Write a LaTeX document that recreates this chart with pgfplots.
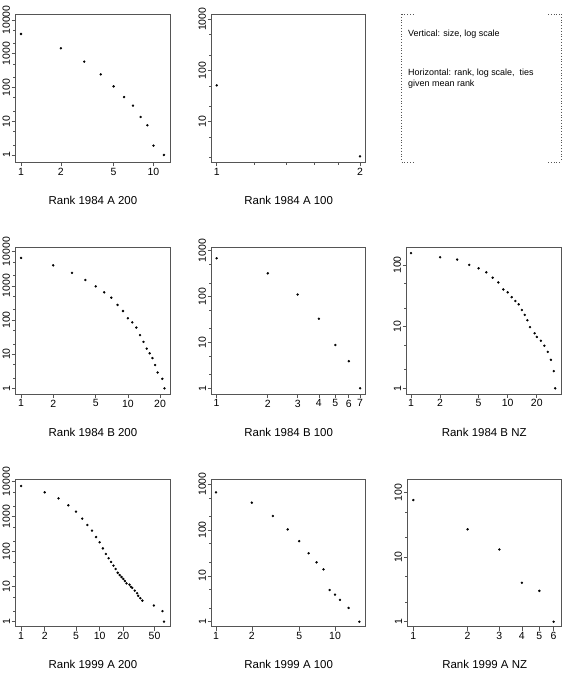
\documentclass[border=0pt]{standalone}
\usepackage{pgfplots}
\pgfplotsset{compat=1.18}
\usepackage{fontspec}
\setmainfont{Liberation Sans}
\definecolor{bx}{RGB}{85,85,85}
\pgfplotsset{
  every axis/.append style={scale only axis, anchor=south west,
    axis line style={bx, line width=0.8bp},
    every tick/.style={bx, line width=0.6bp},
    major tick length=4bp, minor tick length=2.5bp,
    tick align=outside, tick pos=left,
    ticklabel style={font=\fontsize{10.5}{12}\selectfont, text=black},
    yticklabel style={rotate=90, anchor=south, inner sep=1.5bp},
    xticklabel style={inner sep=1.5bp},
    xlabel style={font=\fontsize{11.5}{13}\selectfont, at={(axis description cs:0.5,0)}, anchor=center, yshift=-38bp},
  },
}
\begin{document}
\begin{tikzpicture}
\useasboundingbox (0,0) rectangle (567bp,-677bp);

% Panel 1
\begin{axis}[xmode=log, ymode=log, at={(15.7bp,-162.3bp)}, width=154.5bp, height=148.3bp,
  xmin=0.912, xmax=13.37, ymin=0.607, ymax=15066,
  xtick={1,2,5,10}, xticklabels={1,2,5,10},
  ytick={1,10,100,1000,10000}, yticklabels={1,10,100,1000,10000},
  minor ytick={2,5,20,50,200,500,2000,5000},
  xlabel={Rank 1984 A 200}]
\addplot[only marks, mark=*, mark size=1bp, black] coordinates {(1,3850)(2,1450)(3,583)(4,245)(5,108)(6,52)(7,29)(8,13.4)(9,7.6)(10,1.9)(12,1)};
\end{axis}

% Panel 2
\begin{axis}[xmode=log, ymode=log, at={(211.7bp,-162.3bp)}, width=154bp, height=148.3bp,
  xmin=0.976, xmax=2.056, ymin=1.603, ymax=1270,
  xtick={1,2}, xticklabels={1,2}, minor xtick={1.2,1.4,1.6,1.8},
  ytick={10,100,1000}, yticklabels={10,100,1000},
  minor ytick={2,5,20,50,200,500},
  xlabel={Rank 1984 A 100}]
\addplot[only marks, mark=*, mark size=1bp, black] coordinates {(1,51)(2,2.1)};
\end{axis}

% Panel 3: note box
\draw[bx, dotted, line width=0.8bp] (401.7bp,-14bp) -- (401.7bp,-162bp);
\draw[bx, dotted, line width=0.8bp] (561.7bp,-14bp) -- (561.7bp,-162bp);
\draw[bx, dotted, line width=0.8bp] (401.7bp,-14bp) -- (415bp,-14bp);
\draw[bx, dotted, line width=0.8bp] (548bp,-14bp) -- (561.7bp,-14bp);
\draw[bx, dotted, line width=0.8bp] (401.7bp,-162bp) -- (415bp,-162bp);
\draw[bx, dotted, line width=0.8bp] (548bp,-162bp) -- (561.7bp,-162bp);
\node[anchor=base west, inner sep=0pt, font=\fontsize{9}{11}\selectfont] at (408bp,-36bp) {Vertical: size, log scale};
\node[anchor=base west, inner sep=0pt, font=\fontsize{9}{11}\selectfont] at (408bp,-75bp) {Horizontal: rank, log scale,\ \ ties};
\node[anchor=base west, inner sep=0pt, font=\fontsize{9}{11}\selectfont] at (408bp,-86bp) {given mean rank};

% Panel 4
\begin{axis}[xmode=log, ymode=log, at={(15.7bp,-394bp)}, width=154.5bp, height=146.7bp,
  xmin=0.891, xmax=24.9, ymin=0.682, ymax=13397,
  xtick={1,2,5,10,20}, xticklabels={1,2,5,10,20},
  ytick={1,10,100,1000,10000}, yticklabels={1,10,100,1000,10000},
  minor ytick={2,5,20,50,200,500,2000,5000},
  xlabel={Rank 1984 B 200}]
\addplot[only marks, mark=*, mark size=1bp, black] coordinates {(1,6530)(2,3980)(3,2380)(4,1480)(5,967)(6,645)(7,450)(8,275)(9,183)(10,112)(11,85)(12,60)(13,36)(14,23)(15,14.5)(16,10.6)(17,7.7)(18,4.8)(19,2.9)(21,1.9)(22,1)};
\end{axis}

% Panel 5
\begin{axis}[xmode=log, ymode=log, at={(211.7bp,-394bp)}, width=154bp, height=146.7bp,
  xmin=0.935, xmax=7.55, ymin=0.752, ymax=1191,
  xtick={1,2,3,4,5,6,7}, xticklabels={1,2,3,4,5,6,7},
  ytick={1,10,100,1000}, yticklabels={1,10,100,1000},
  minor ytick={2,5,20,50,200,500},
  xlabel={Rank 1984 B 100}]
\addplot[only marks, mark=*, mark size=1bp, black] coordinates {(1,686)(2,323)(3,111)(4,33)(5,8.8)(6,3.9)(7,1)};
\end{axis}

% Panel 6
\begin{axis}[xmode=log, ymode=log, at={(406.7bp,-394bp)}, width=155bp, height=146.7bp,
  xmin=0.902, xmax=36.2, ymin=0.809, ymax=193,
  xtick={1,2,5,10,20}, xticklabels={1,2,5,10,20},
  ytick={1,10,100}, yticklabels={1,10,100},
  minor ytick={2,5,20,50},
  xlabel={Rank 1984 B NZ}]
\addplot[only marks, mark=*, mark size=1bp, black] coordinates {(1,155)(2,133)(3,122)(4,100)(5,88)(6,76)(7,62)(8,52)(9,40)(10,36)(11,30)(12,26)(13,23)(14,18.6)(15,15.5)(16,12.7)(17,9.8)(19,7.8)(20,6.8)(22,5.9)(24,4.9)(26,3.9)(28,2.9)(30,1.9)(31,1)};
\end{axis}

% Panel 7
\begin{axis}[xmode=log, ymode=log, at={(15.7bp,-626.7bp)}, width=154.5bp, height=147.4bp,
  xmin=0.855, xmax=79.1, ymin=0.719, ymax=11670,
  xtick={1,2,5,10,20,50}, xticklabels={1,2,5,10,20,50},
  ytick={1,10,100,1000,10000}, yticklabels={1,10,100,1000,10000},
  minor ytick={2,5,20,50,200,500,2000,5000},
  xlabel={Rank 1999 A 200}]
\addplot[only marks, mark=*, mark size=1bp, black] coordinates {(1,7516)(2,4955)(3,3340)(4,2107)(5,1390)(6,877)(7,578)(8,398)(9,262)(10,185)(11,124)(12,86)(13,65)(14,51)(15,40)(16,32)(17,25)(18,21.5)(19,18.9)(20,16.6)(21,14.5)(22,12.4)(24,11.4)(25,10)(26,9.2)(28,7.7)(30,6.5)(31,5.5)(33,4.7)(35,4.0)(49,2.9)(63,2.0)(66,1)};
\end{axis}

% Panel 8
\begin{axis}[xmode=log, ymode=log, at={(211.7bp,-626.7bp)}, width=154bp, height=147.4bp,
  xmin=0.920, xmax=18.1, ymin=0.778, ymax=1274,
  xtick={1,2,5,10}, xticklabels={1,2,5,10},
  ytick={1,10,100,1000}, yticklabels={1,10,100,1000},
  minor ytick={2,5,20,50,200,500},
  xlabel={Rank 1999 A 100}]
\addplot[only marks, mark=*, mark size=1bp, black] coordinates {(1,663)(2,395)(3,202)(4,103)(5,57)(6,31)(7,19.7)(8,13.9)(9,4.9)(10,3.9)(11,3.0)(13,2.0)(16,1)};
\end{axis}

% Panel 9
\begin{axis}[xmode=log, ymode=log, at={(407.7bp,-626.7bp)}, width=154bp, height=147.4bp,
  xmin=0.931, xmax=6.65, ymin=0.838, ymax=159,
  xtick={1,2,3,4,5,6}, xticklabels={1,2,3,4,5,6},
  ytick={1,10,100}, yticklabels={1,10,100},
  minor ytick={2,5,20,50},
  xlabel={Rank 1999 A NZ}]
\addplot[only marks, mark=*, mark size=1bp, black] coordinates {(1,76)(2,26.8)(3,13.1)(4,4.0)(5,3.0)(6,1)};
\end{axis}
\end{tikzpicture}
\end{document}
